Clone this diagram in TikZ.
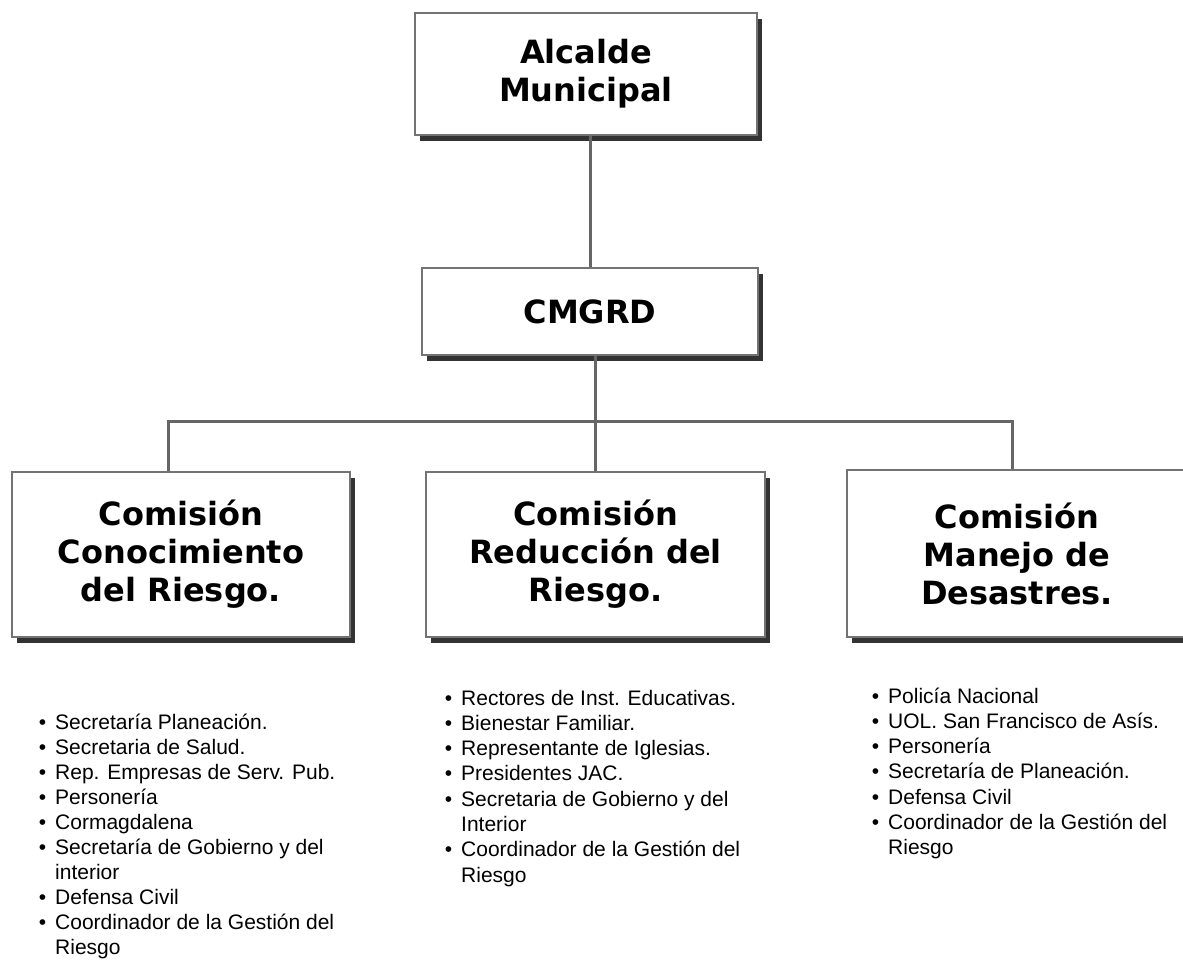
\documentclass[tikz,border=0pt]{standalone}
\usepackage{fontspec}
\setmainfont{Liberation Sans}
\newfontfamily\boxfont{DejaVu Sans}
\usetikzlibrary{positioning,shadows}

\tikzset{
  cajon/.style={draw=black!55, line width=2.5pt, fill=white, text=black, align=center,
    inner sep=0pt, font=\boxfont\bfseries\fontsize{32}{38}\selectfont,
    drop shadow={shadow xshift=5pt, shadow yshift=-6pt, fill=black!80, opacity=1}},
  linea/.style={draw=black!60, line width=3pt},
  item/.style={anchor=base west, inner sep=0pt, font=\fontsize{21}{25}\selectfont}
}
\newcommand{\bul}{\llap{\textbullet\hspace{9pt}}}

\begin{document}
\begin{tikzpicture}[x=1pt, y=-1pt]
    \useasboundingbox[fill=white] (0,0) rectangle (1183,961);
%
    \node[cajon, minimum width=342, minimum height=122] (alcalde) at (586,74) {Alcalde\\Municipal};
    \node[cajon, minimum width=336, minimum height=87] (cmgrd) at (590,311.5) {CMGRD};
%
    \node[cajon, minimum width=338, minimum height=165] (conoc) at (181,554.5) {Comisión\\Conocimiento\\del Riesgo.};
    \node[cajon, minimum width=339, minimum height=165] (reduc) at (595.5,554.5) {Comisión\\Reducción del\\Riesgo.};
    \node[cajon, minimum width=340, minimum height=167] (manejo) at (1017,553.5) {Comisión\\Manejo de\\Desastres.};
%
    \coordinate (bar) at (595,421);
    \draw[linea] (alcalde.south -| cmgrd.north) -- (cmgrd.north);
    \draw[linea] (cmgrd.south -| reduc.north) -- (reduc.north);
    \draw[linea] ([xshift=-13pt]conoc.north) -- ([xshift=-13pt]conoc.north |- bar)
       -- ([xshift=-5pt]manejo.north |- bar) -- ([xshift=-5pt]manejo.north);
%
    % lista conocimiento
    \foreach \t [count=\i] in {\bul Secretaría Planeación., \bul Secretaria de Salud.,
        \bul Rep. Empresas de Serv. Pub., \bul Personería, \bul Cormagdalena,
        \bul Secretaría de  Gobierno y del, interior, \bul Defensa Civil,
        \bul Coordinador de la Gestión del, Riesgo}
      \node[item] (lc\i) at (55,{729+(\i-1)*25}) {\t};
%
    % lista reduccion
    \foreach \t [count=\i] in {\bul Rectores de Inst. Educativas., \bul Bienestar Familiar.,
        \bul Representante de Iglesias., \bul Presidentes JAC.,
        \bul Secretaria de Gobierno y del, Interior,
        \bul Coordinador de la Gestión del, Riesgo}
      \node[item] (lr\i) at (461,{705+(\i-1)*25.3}) {\t};
%
    % lista manejo
    \foreach \t [count=\i] in {\bul Policía Nacional, \bul UOL. San Francisco de Asís.,
        \bul Personería, \bul Secretaría de Planeación., \bul Defensa Civil,
        \bul Coordinador de la Gestión del, Riesgo}
      \node[item] (lm\i) at (888,{703+(\i-1)*25.3}) {\t};
\end{tikzpicture}
\end{document}
